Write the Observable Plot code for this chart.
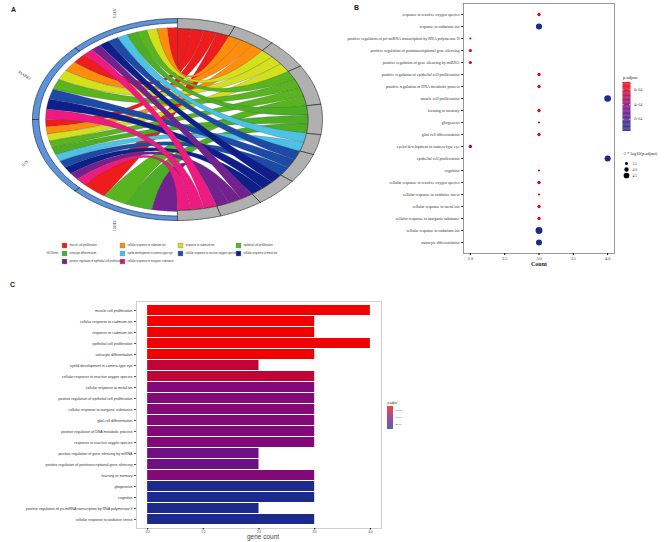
<!DOCTYPE html>
<html><head><meta charset="utf-8">
<script src="https://cdn.jsdelivr.net/npm/d3@7"></script>
<script src="https://cdn.jsdelivr.net/npm/@observablehq/plot@0.6"></script>
<style>
body{margin:0;background:#fff}
#fig{position:relative;width:666px;height:542px;overflow:hidden;background:#fff}
.plab{position:absolute;font:bold 7px "Liberation Sans",Arial,sans-serif;color:#222}
</style></head><body><div id="fig"></div>
<script>
// ---------------- DATA ----------------
const genes = ["ATF3", "MAPK1", "JUN", "SIRT1"];
const goTerms = ["muscle cell proliferation", "cellular response to cadmium ion", "response to cadmium ion",
  "epithelial cell proliferation", "astrocyte differentiation", "eyelid development in camera-type eye",
  "cellular response to reactive oxygen species", "cellular response to metal ion",
  "positive regulation of epithelial cell proliferation", "cellular response to inorganic substance"];
const termColors = ["#ee1c1c", "#ff8c0a", "#d4e01c", "#58b51e", "#4cae24", "#4cc3e6", "#1b4ba6", "#0e1f8c", "#742190", "#ee1a82"];
const termGenes = [
  ["ATF3", "MAPK1", "JUN", "SIRT1"],
  ["ATF3", "MAPK1", "JUN"],
  ["ATF3", "MAPK1", "JUN"],
  ["ATF3", "MAPK1", "JUN", "SIRT1"],
  ["ATF3", "JUN", "SIRT1"],
  ["ATF3", "JUN"],
  ["ATF3", "MAPK1", "JUN"],
  ["ATF3", "MAPK1", "JUN"],
  ["ATF3", "JUN", "SIRT1"],
  ["ATF3", "MAPK1", "JUN"]
];

// Panel B (dot plot)
const bTerms = ["response to reactive oxygen species", "response to cadmium ion",
  "positive regulation of pri-miRNA transcription by RNA polymerase II",
  "positive regulation of posttranscriptional gene silencing", "positive regulation of gene silencing by miRNA",
  "positive regulation of epithelial cell proliferation", "positive regulation of DNA metabolic process",
  "muscle cell proliferation", "learning or memory", "gliogenesis", "glial cell differentiation",
  "eyelid development in camera-type eye", "epithelial cell proliferation", "cognition",
  "cellular response to reactive oxygen species", "cellular response to oxidative stress",
  "cellular response to metal ion", "cellular response to inorganic substance",
  "cellular response to cadmium ion", "astrocyte differentiation"];
const bCount = [3, 3, 2, 2, 2, 3, 3, 4, 3, 3, 3, 2, 4, 3, 3, 3, 3, 3, 3, 3];
const bPadj = [6.6e-4, 3.5e-5, 7.0e-4, 6.6e-4, 6.6e-4, 6.5e-4, 6.5e-4, 3.5e-5, 6.5e-4, 7.0e-4, 6.5e-4,
  5.3e-4, 4.0e-5, 7.0e-4, 5.3e-4, 7.0e-4, 6.5e-4, 6.5e-4, 3.5e-5, 4.0e-5];
const bNegLog = [3.6, 4.65, 3.2, 3.55, 3.55, 3.6, 3.6, 4.85, 3.6, 3.2, 3.6, 3.65, 4.65, 3.2, 3.65, 3.2, 3.6, 3.6, 4.95, 4.6];
const bXTicks = [2.0, 2.5, 3.0, 3.5, 4.0];
const colorTicks = [6e-4, 4e-4, 2e-4];
const sizeTicks = [3.5, 4.0, 4.5];

// Panel C (bar chart)
const cTerms = ["muscle cell proliferation", "cellular response to cadmium ion", "response to cadmium ion",
  "epithelial cell proliferation", "astrocyte differentiation", "eyelid development in camera-type eye",
  "cellular response to reactive oxygen species", "cellular response to metal ion",
  "positive regulation of epithelial cell proliferation", "cellular response to inorganic substance",
  "glial cell differentiation", "positive regulation of DNA metabolic process",
  "response to reactive oxygen species", "positive regulation of gene silencing by miRNA",
  "positive regulation of posttranscriptional gene silencing", "learning or memory", "gliogenesis",
  "cognition", "positive regulation of pri-miRNA transcription by RNA polymerase II",
  "cellular response to oxidative stress"];
const cCount = [4, 3, 3, 4, 3, 2, 3, 3, 3, 3, 3, 3, 3, 2, 2, 3, 3, 3, 2, 3];
const cPadj = [7e-4, 7e-4, 7e-4, 7e-4, 7e-4, 5.6e-4, 5.6e-4, 3.9e-4, 3.9e-4, 3.9e-4, 3.9e-4, 3.9e-4, 3.9e-4,
  3.2e-4, 3.2e-4, 3.9e-4, 4e-5, 4e-5, 4e-5, 4e-5];
const cXTicks = [0, 1, 2, 3, 4];

// ---------------- SHARED SCALES ----------------
const colorCfg = {type: "linear", domain: [3.5e-5, 3.7e-4, 7e-4], range: ["#1b2a8c", "#7d0a80", "#f20000"], clamp: true};
const rCfg = {type: "linear", domain: [3.5, 4.5], range: [1.5, 2.85]};
const fmtP = d => d.toExponential(0).replace(/e-(\d)$/, "e-0$1");
const serif = "'Liberation Serif','Times New Roman',serif";
const sans = "'Liberation Sans',Arial,sans-serif";

const fig = document.getElementById("fig");
function place(node, left, top) {
  node.style.position = "absolute"; node.style.left = left + "px"; node.style.top = top + "px";
  fig.appendChild(node);
}
function label(t, left, top) {
  const d = document.createElement("div"); d.className = "plab"; d.textContent = t;
  d.style.left = left + "px"; d.style.top = top + "px"; fig.appendChild(d);
}

// ---------------- PANEL A: chord ----------------
const deg = Math.PI / 180;
const links = [];
goTerms.forEach((t, ti) => termGenes[ti].forEach((g, k) => links.push({term: t, ti, k, gene: g, gi: genes.indexOf(g)})));
const geneSpan = 180 / genes.length;
genes.forEach((g, gi) => {
  const ls = links.filter(l => l.gi === gi).sort((a, b) => a.ti - b.ti);
  const w = geneSpan / ls.length;
  ls.forEach((l, j) => { l.g0 = (90 + gi * geneSpan + j * w) * deg; l.g1 = (90 + gi * geneSpan + (j + 1) * w) * deg; });
});
const unit = 180 / links.length;
let cum = 0;
const termSeg = goTerms.map((t, ti) => {
  const hi = 90 - cum * unit, lo = 90 - (cum + termGenes[ti].length) * unit;
  links.filter(l => l.ti === ti).forEach(l => { l.thi = (hi - l.k * unit) * deg; l.tlo = (hi - (l.k + 1) * unit) * deg; });
  cum += termGenes[ti].length;
  return {t, ti, a0: lo * deg, a1: hi * deg};
});
const RG = 0.91, RT = 0.9;
const pt = (a, r) => [r * Math.cos(a), r * Math.sin(a)];
const arcPts = (a0, a1, r, n = 16) => d3.range(n + 1).map(i => pt(a0 + (a1 - a0) * i / n, r));
const bez = (p, q, n = 40) => d3.range(1, n).map(i => { const t = i / n, u = 1 - t; return [u * u * p[0] + t * t * q[0], u * u * p[1] + t * t * q[1]]; });
const ribbonPts = [];
links.forEach((l, id) => {
  const pts = [...arcPts(l.g0, l.g1, RG), ...bez(pt(l.g1, RG), pt(l.tlo, RT)), ...arcPts(l.tlo, l.thi, RT),
    ...bez(pt(l.thi, RT), pt(l.g0, RG)), pt(l.g0, RG)];
  pts.forEach(p => ribbonPts.push({id, x: p[0], y: p[1], color: termColors[l.ti]}));
});
const ringPts = [];
const ringSeg = (id, a0, a1, rIn, color) => {
  [...arcPts(a0, a1, 1, 30), ...arcPts(a1, a0, rIn, 30), pt(a0, 1)].forEach(p => ringPts.push({id, x: p[0], y: p[1], color}));
};
genes.forEach((g, gi) => ringSeg("g" + gi, (90 + gi * geneSpan) * deg, (90 + (gi + 1) * geneSpan) * deg, 0.955, "#5b93dc"));
termSeg.forEach(s => ringSeg("t" + s.ti, s.a0, s.a1, 0.9, "#b0b0b0"));
const geneRot = {ATF3: 90, MAPK1: 33, JUN: -42, SIRT1: 90};
const geneLabels = genes.map((g, gi) => {
  const a = (90 + (gi + 0.5) * geneSpan) * deg;
  return {g, x: 1.14 * Math.cos(a), y: 1.14 * Math.sin(a), rot: geneRot[g]};
});

const plotA = Plot.plot({
  width: 330, height: 240, margin: 0,
  x: {domain: [-1, 1], range: [32, 322], axis: null},
  y: {domain: [-1, 1], range: [220, 18], axis: null},
  color: {type: "identity"},
  marks: [
    Plot.line(ribbonPts, {x: "x", y: "y", z: "id", fill: "color", stroke: "#4a4a4a", strokeWidth: 0.25, curve: "linear"}),
    Plot.line(ringPts, {x: "x", y: "y", z: "id", fill: "color", stroke: "#1e1e1e", strokeWidth: 0.6}),
    Plot.text(geneLabels, {x: "x", y: "y", text: "g", rotate: "rot", fontSize: 4.2, fontFamily: serif, fill: "#333"})
  ]
});
place(plotA, 0, 0);

// legend A
const legA = goTerms.map((t, i) => ({t, col: i % 4, row: Math.floor(i / 4), color: termColors[i]}));
const plotALeg = Plot.plot({
  width: 300, height: 30, margin: 0,
  x: {domain: [0, 3], range: [64, 238], axis: null},
  y: {domain: [0, 2], range: [7, 23], axis: null},
  color: {type: "identity"},
  marks: [
    Plot.dot(legA, {x: "col", y: "row", symbol: "square", r: 2.7, fill: "color", stroke: "#555", strokeWidth: 0.3}),
    Plot.text(legA, {x: "col", y: "row", text: "t", dx: 5, textAnchor: "start", fontSize: 2.6, fontFamily: sans, fill: "#333"}),
    Plot.text(["GOTerms"], {x: 0, y: 1, dx: -6, textAnchor: "end", fontSize: 2.8, fontFamily: sans, fill: "#333"})
  ]
});
place(plotALeg, 0, 238);

// ---------------- PANEL B: dot plot ----------------
const bData = bTerms.map((t, i) => ({term: t, count: bCount[i], p: bPadj[i], s: bNegLog[i]}));
const plotB = Plot.plot({
  width: 290, height: 272, marginLeft: 133, marginRight: 6, marginTop: 3, marginBottom: 19,
  style: {fontFamily: serif, background: "transparent"},
  x: {domain: [1.9, 4.1], label: null},
  y: {type: "point", domain: bTerms, padding: 0.6, label: null},
  color: colorCfg, r: rCfg,
  marks: [
    Plot.frame({stroke: "#7f7f7f", strokeWidth: 0.8}),
    Plot.axisY({tickSize: 2, tickPadding: 2, fontSize: 4, fill: "#333", stroke: "#333"}),
    Plot.axisX({ticks: bXTicks, tickFormat: d3.format(".1f"), tickSize: 2, tickPadding: 1.5, fontSize: 4.2, fill: "#333", label: null}),
    Plot.dot(bData, {x: "count", y: "term", fill: "p", r: "s"}),
    Plot.text(["Count"], {frameAnchor: "bottom", dy: 12, fontSize: 6, fontWeight: "bold", fill: "#222"})
  ]
});
place(plotB, 330, 0);
label("B", 354, 4);

// B colour bar
const cbSteps = d3.range(60).map(i => 3.5e-5 + (7e-4 - 3.5e-5) * i / 60);
const cbStep = (7e-4 - 3.5e-5) / 60;
const plotBcb = Plot.plot({
  width: 50, height: 66, margin: 0, style: {fontFamily: serif},
  x: {domain: [0, 1], range: [6.5, 14.5], axis: null},
  y: {domain: [3.5e-5, 7e-4], range: [61, 12], axis: null},
  color: colorCfg,
  marks: [
    Plot.rect(cbSteps, {x1: 0, x2: 1, y1: d => d, y2: d => d + cbStep * 1.05, fill: d => d + cbStep / 2}),
    Plot.ruleY(colorTicks, {x1: 0, x2: 0.2, stroke: "white", strokeWidth: 0.5}),
    Plot.ruleY(colorTicks, {x1: 0.8, x2: 1, stroke: "white", strokeWidth: 0.5}),
    Plot.text(colorTicks, {x: 1, y: d => d, dx: 3, text: fmtP, textAnchor: "start", fontSize: 3.6, fill: "#333"}),
    Plot.text(["p.adjust"], {x: 0, y: 7e-4, dy: -5, textAnchor: "start", fontSize: 4.6, fill: "#222"})
  ]
});
place(plotBcb, 616, 70);

// B size legend
const plotBsz = Plot.plot({
  width: 50, height: 45, margin: 0, style: {fontFamily: serif},
  x: {domain: [0, 1], range: [10, 20], axis: null},
  y: {type: "point", domain: sizeTicks, range: [19, 39], axis: null},
  r: rCfg,
  marks: [
    Plot.dot(sizeTicks, {x: 0, y: d => d, r: d => d, fill: "black"}),
    Plot.text(sizeTicks, {x: 0, y: d => d, dx: 6, text: d => d.toFixed(1), textAnchor: "start", fontSize: 3.6, fill: "#333"}),
    Plot.text(["-1 * log10(p.adjust)"], {x: 0, y: sizeTicks[0], dy: -10, dx: -4, textAnchor: "start", fontSize: 4.4, fill: "#222"})
  ]
});
place(plotBsz, 616, 140);

// ---------------- PANEL C: bar chart ----------------
const cData = cTerms.map((t, i) => ({term: t, count: cCount[i], p: cPadj[i]}));
const plotC = Plot.plot({
  width: 400, height: 252, marginLeft: 136, marginRight: 19, marginTop: 11, marginBottom: 14,
  style: {fontFamily: sans, background: "transparent"},
  x: {domain: [-0.2, 4.2], label: null},
  y: {domain: cTerms, paddingInner: 0.1, paddingOuter: 0.22, label: null},
  color: colorCfg,
  marks: [
    Plot.barX(cData, {x: "count", y: "term", fill: "p"}),
    Plot.frame({stroke: "#cfcfcf", strokeWidth: 1}),
    Plot.axisY({tickSize: 2, tickPadding: 2, fontSize: 3.6, fill: "#333", stroke: "#555"}),
    Plot.axisX({ticks: cXTicks, tickSize: 1.5, tickPadding: 1, fontSize: 3, fill: "#333", label: null}),
    Plot.text(["gene count"], {frameAnchor: "bottom", dy: 10.5, dx: 4, fontSize: 6.5, fill: "#444"})
  ]
});
place(plotC, 0, 290);
label("C", 10, 281);
label("A", 11, 6);

// C colour bar
const plotCcb = Plot.plot({
  width: 30, height: 32, margin: 0, style: {fontFamily: sans},
  x: {domain: [0, 1], range: [3, 9], axis: null},
  y: {domain: [3.5e-5, 7e-4], range: [29, 6], axis: null},
  color: colorCfg,
  marks: [
    Plot.rect(cbSteps, {x1: 0, x2: 1, y1: d => d, y2: d => d + cbStep * 1.05, fill: d => d + cbStep / 2}),
    Plot.text(colorTicks, {x: 1, y: d => d, dx: 2, text: fmtP, textAnchor: "start", fontSize: 2.4, fill: "#333"}),
    Plot.text(["p.adjust"], {x: 0, y: 7e-4, dy: -3, textAnchor: "start", fontSize: 2.8, fill: "#222"})
  ]
});
place(plotCcb, 384, 400);
</script></body></html>
